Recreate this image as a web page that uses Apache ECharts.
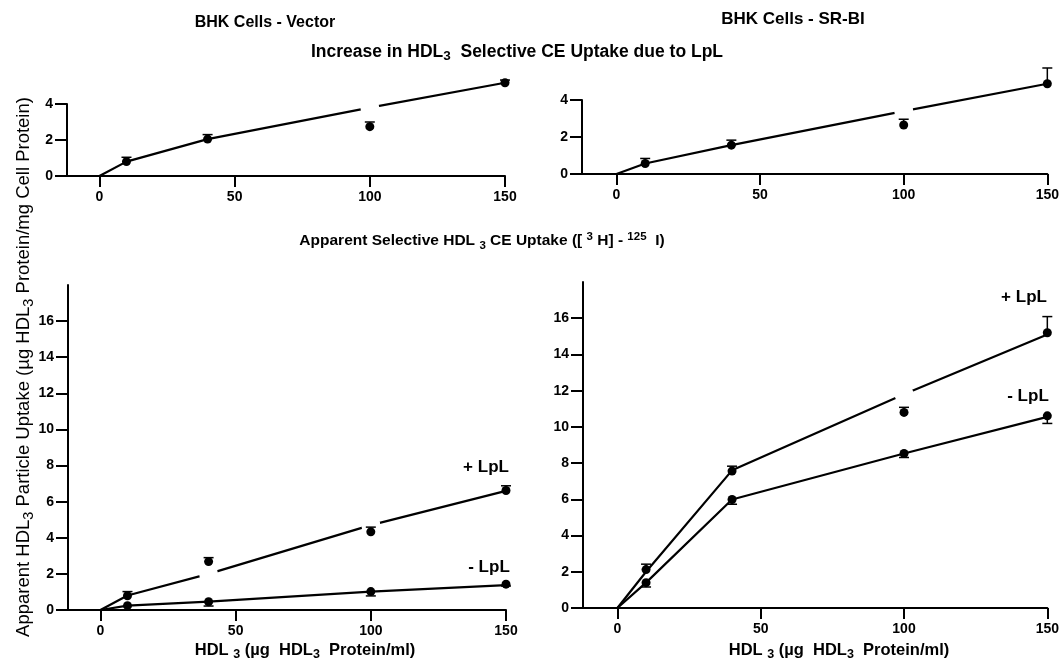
<!DOCTYPE html>
<html>
<head>
<meta charset="utf-8">
<title>HDL3 selective CE uptake</title>
<script src="https://cdn.jsdelivr.net/npm/echarts@6/dist/echarts.min.js"></script>
<style>
html, body { margin: 0; padding: 0; background: #fff; }
#chart { width: 1062px; height: 662px; }
</style>
</head>
<body>
<div id="chart"></div>
<script>
// HDL3 concentration (ug HDL3 protein/ml)
const lineDoses = [0, 10, 40, 100, 150];
const pointDoses = [10, 40, 100, 150];

const xTicks = [0, 50, 100, 150];
const yTicksTop = [0, 2, 4];
const yTicksBottom = [0, 2, 4, 6, 8, 10, 12, 14, 16];

// increase in selective CE uptake due to LpL
const vectorIncMean = [0.8, 2.05, 2.74, 5.18];
const vectorIncErr = [0.24, 0.25, 0.26, 0.15];
const vectorIncFit = [0, 0.8, 2.05, 3.8, 5.18];
const srbiIncMean = [0.57, 1.56, 2.65, 4.88];
const srbiIncErr = [0.27, 0.27, 0.31, 0.85];
const srbiIncFit = [0, 0.57, 1.56, 3.4, 4.88];

// apparent selective uptake, + LpL / - LpL
const vectorPlusMean = [0.79, 2.68, 4.33, 6.62];
const vectorPlusErr = [0.23, 0.22, 0.26, 0.26];
const vectorPlusFit = [0, 0.8, 2.0, 4.7, 6.6];
const vectorMinusMean = [0.24, 0.46, 1.02, 1.43];
const vectorMinusErr = [0, 0.24, 0.24, 0.1];
const vectorMinusFit = [0, 0.24, 0.46, 1.02, 1.38];
const srbiPlusMean = [2.12, 7.56, 10.8, 15.2];
const srbiPlusErr = [0.3, 0.27, 0.28, 0.89];
const srbiPlusFit = [0, 2.0, 7.6, 11.8, 15.1];
const srbiMinusMean = [1.4, 5.99, 8.53, 10.61];
const srbiMinusErr = [0.24, 0.26, 0.22, 0.42];
const srbiMinusFit = [0, 1.4, 5.99, 8.53, 10.55];

// doses where the drawn line is broken
const vectorIncGaps = [100];
const srbiIncGaps = [100];
const vectorPlusGaps = [40, 100];
const srbiPlusGaps = [100];

const FONT = '"Liberation Sans", Arial, sans-serif';

const chart = echarts.init(document.getElementById('chart'));

function xAxis(idx) {
  return {
    type: 'value', gridIndex: idx, min: -12, max: 150,
    axisLine: { show: true, onZero: false, lineStyle: { color: '#000', width: 2 } },
    axisTick: { show: true, length: 11, customValues: xTicks, lineStyle: { color: '#000', width: 2 } },
    axisLabel: { customValues: xTicks, color: '#000', fontSize: 14, fontWeight: 'bold', fontFamily: FONT, margin: 14 },
    splitLine: { show: false }
  };
}

function yAxis(idx, max, ticks) {
  return {
    type: 'value', gridIndex: idx, min: 0, max: max,
    axisLine: { show: true, onZero: false, lineStyle: { color: '#000', width: 2 } },
    axisTick: { show: true, length: 12, customValues: ticks, lineStyle: { color: '#000', width: 2 } },
    axisLabel: { customValues: ticks, color: '#000', fontSize: 14, fontWeight: 'bold', fontFamily: FONT, margin: 14 },
    splitLine: { show: false }
  };
}

function fitLine(idx, fit, gaps) {
  return {
    type: 'line', xAxisIndex: idx, yAxisIndex: idx, clip: false, z: 2, silent: true,
    lineStyle: { color: '#000', width: 2.2 },
    data: lineDoses.map((d, i) => gaps.includes(d)
      ? { value: [d, fit[i]], symbol: 'circle', symbolSize: 19, itemStyle: { color: '#fff', borderWidth: 0 } }
      : { value: [d, fit[i]], symbol: 'none' })
  };
}

function dots(idx, mean) {
  return {
    type: 'scatter', xAxisIndex: idx, yAxisIndex: idx, clip: false, z: 4, silent: true,
    symbolSize: 9, itemStyle: { color: '#000', opacity: 1 },
    data: pointDoses.map((d, i) => [d, mean[i]])
  };
}

// dir 1 = bar drawn upward, -1 = downward
function errBars(idx, mean, err, dir) {
  return {
    type: 'custom', xAxisIndex: idx, yAxisIndex: idx, clip: false, z: 3, silent: true,
    data: pointDoses.map((d, i) => [d, mean[i], mean[i] + dir * err[i]]),
    renderItem(params, api) {
      const p0 = api.coord([api.value(0), api.value(1)]);
      const p1 = api.coord([api.value(0), api.value(2)]);
      if (Math.abs(p1[1] - p0[1]) < 0.5) return null;
      const st = { stroke: '#000', lineWidth: 1.5 };
      return {
        type: 'group',
        children: [
          { type: 'line', shape: { x1: p0[0], y1: p0[1], x2: p1[0], y2: p1[1] }, style: st },
          { type: 'line', shape: { x1: p1[0] - 5, y1: p1[1], x2: p1[0] + 5, y2: p1[1] }, style: st }
        ]
      };
    }
  };
}

function label(x, y, text, size, weight, extra) {
  return Object.assign({
    type: 'text', x: x, y: y, silent: true,
    style: {
      text: text, fill: '#000', fontSize: size, fontWeight: weight, fontFamily: FONT,
      align: 'center', verticalAlign: 'middle', textAlign: 'center', textVerticalAlign: 'middle',
      rich: {
        sub: { fontSize: size - 4, fontWeight: weight, fontFamily: FONT, padding: [9, 0, 0, 0] },
        sup: { fontSize: size - 4, fontWeight: weight, fontFamily: FONT, padding: [0, 0, 9, 0] }
      }
    }
  }, extra || {});
}

const option = {
  backgroundColor: '#fff',
  animation: false,
  grid: [
    { left: 67, top: 104, width: 438, height: 72 },
    { left: 582, top: 100, width: 466, height: 74 },
    { left: 68, top: 285, width: 438, height: 325 },
    { left: 583, top: 282, width: 465, height: 326 }
  ],
  xAxis: [xAxis(0), xAxis(1), xAxis(2), xAxis(3)],
  yAxis: [
    yAxis(0, 4, yTicksTop),
    yAxis(1, 4, yTicksTop),
    yAxis(2, 18, yTicksBottom),
    yAxis(3, 18, yTicksBottom)
  ],
  series: [
    fitLine(0, vectorIncFit, vectorIncGaps),
    errBars(0, vectorIncMean, vectorIncErr, 1),
    dots(0, vectorIncMean),

    fitLine(1, srbiIncFit, srbiIncGaps),
    errBars(1, srbiIncMean, srbiIncErr, 1),
    dots(1, srbiIncMean),

    fitLine(2, vectorPlusFit, vectorPlusGaps),
    errBars(2, vectorPlusMean, vectorPlusErr, 1),
    dots(2, vectorPlusMean),
    fitLine(2, vectorMinusFit, []),
    errBars(2, vectorMinusMean, vectorMinusErr, -1),
    dots(2, vectorMinusMean),

    fitLine(3, srbiPlusFit, srbiPlusGaps),
    errBars(3, srbiPlusMean, srbiPlusErr, 1),
    dots(3, srbiPlusMean),
    fitLine(3, srbiMinusFit, []),
    errBars(3, srbiMinusMean, srbiMinusErr, -1),
    dots(3, srbiMinusMean)
  ],
  graphic: [
    label(265, 23, 'BHK Cells - Vector', 16, 'bold'),
    label(793, 19, 'BHK Cells - SR-BI', 17, 'bold'),
    label(517, 52, 'Increase in HDL{sub|3}  Selective CE Uptake due to LpL', 17.5, 'bold'),
    label(482, 241, 'Apparent Selective HDL {sub|3} CE Uptake ([ {sup|3} H] - {sup|125}  I)', 15.5, 'bold'),
    label(24, 367, 'Apparent HDL{sub|3} Particle Uptake (\u00b5g HDL{sub|3} Protein/mg Cell Protein)', 18.5, 'normal',
      { rotation: Math.PI / 2 }),
    label(305, 650, 'HDL {sub|3} (\u00b5g  HDL{sub|3}  Protein/ml)', 16.5, 'bold'),
    label(839, 650, 'HDL {sub|3} (\u00b5g  HDL{sub|3}  Protein/ml)', 16.5, 'bold'),
    label(486, 467, '+ LpL', 17, 'bold'),
    label(489, 567, '- LpL', 17, 'bold'),
    label(1024, 297, '+ LpL', 17, 'bold'),
    label(1028, 396, '- LpL', 17, 'bold')
  ]
};

chart.setOption(option);
</script>
</body>
</html>
